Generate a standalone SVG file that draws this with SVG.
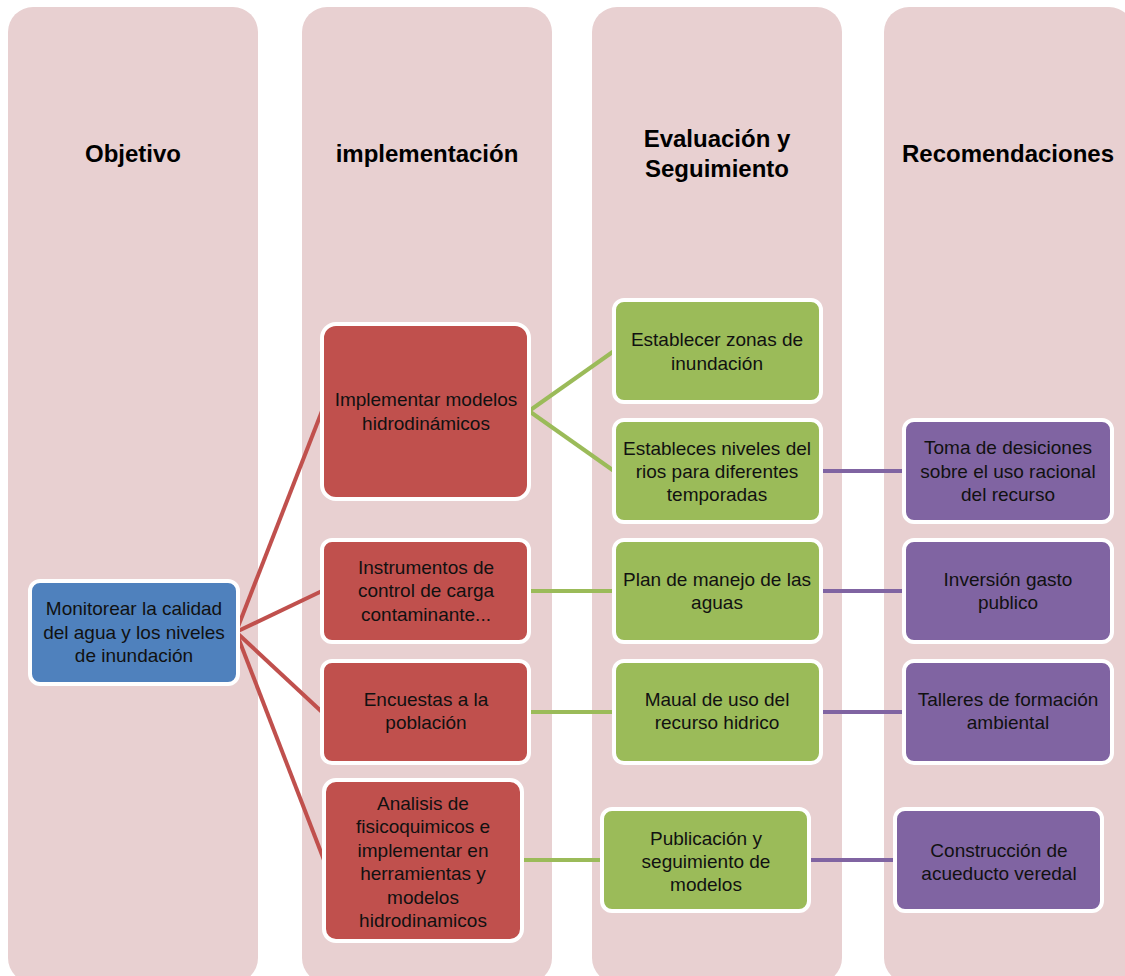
<svg xmlns="http://www.w3.org/2000/svg" width="1125" height="976" viewBox="0 0 1125 976">
<style>
.col{fill:#E8D0D1}
.hd{font-family:"Liberation Sans",Arial,sans-serif;font-weight:bold;font-size:24px;fill:#000;text-anchor:middle}
.tx{font-family:"Liberation Sans",Arial,sans-serif;font-size:19px;fill:#111;text-anchor:middle}
.nb{stroke:#fff;stroke-width:4}
.blue{fill:#4F81BD}
.red{fill:#C0504D}
.green{fill:#9BBB59}
.purple{fill:#8064A2}
.cr{stroke:#C0504D;stroke-width:4;fill:none}
.cg{stroke:#9BBB59;stroke-width:4;fill:none}
.cp{stroke:#8064A2;stroke-width:4;fill:none}
</style>
<rect width="1125" height="976" fill="#fff"/>
<g id="columns">
<g id="col-objetivo"><rect class="col" x="8" y="7" width="250" height="976" rx="25"/><text class="hd" x="133" y="161.5">Objetivo</text></g>
<g id="col-implementacion"><rect class="col" x="302" y="7" width="250" height="976" rx="25"/><text class="hd" x="427" y="161.5">implementación</text></g>
<g id="col-evaluacion"><rect class="col" x="592" y="7" width="250" height="976" rx="25"/><text class="hd" x="717" y="146.5">Evaluación y</text><text class="hd" x="717" y="176.5">Seguimiento</text></g>
<g id="col-recomendaciones"><rect class="col" x="884" y="7" width="250" height="976" rx="25"/><text class="hd" x="1008" y="161.5">Recomendaciones</text></g>
</g>
<g id="connectors">
<line class="cr" x1="236" y1="632" x2="322" y2="411"/>
<line class="cr" x1="236" y1="632" x2="322" y2="591"/>
<line class="cr" x1="236" y1="632" x2="322" y2="712"/>
<line class="cr" x1="236" y1="632" x2="324" y2="860"/>
<line class="cg" x1="529" y1="411" x2="614" y2="351"/>
<line class="cg" x1="529" y1="411" x2="614" y2="471"/>
<line class="cg" x1="529" y1="591" x2="614" y2="591"/>
<line class="cg" x1="529" y1="712" x2="614" y2="712"/>
<line class="cg" x1="522" y1="860" x2="602" y2="860"/>
<line class="cp" x1="821" y1="471" x2="904" y2="471"/>
<line class="cp" x1="821" y1="591" x2="904" y2="591"/>
<line class="cp" x1="821" y1="712" x2="904" y2="712"/>
<line class="cp" x1="809" y1="860" x2="895" y2="860"/>
</g>
<g id="n-monitorear"><rect class="nb blue" x="30" y="581" width="208" height="103" rx="10"/><text class="tx" x="134" y="615">Monitorear la calidad</text><text class="tx" x="134" y="638.5">del agua y los niveles</text><text class="tx" x="134" y="662">de inundación</text></g>
<g id="n-implementar"><rect class="nb red" x="322" y="324" width="207" height="175" rx="14"/><text class="tx" x="426" y="405.5">Implementar modelos</text><text class="tx" x="426" y="429.5">hidrodinámicos</text></g>
<g id="n-instrumentos"><rect class="nb red" x="322" y="540" width="207" height="102" rx="10"/><text class="tx" x="426" y="573.5">Instrumentos de</text><text class="tx" x="426" y="597">control de carga</text><text class="tx" x="426" y="620.5">contaminante...</text></g>
<g id="n-encuestas"><rect class="nb red" x="322" y="661" width="207" height="102" rx="10"/><text class="tx" x="426" y="705.5">Encuestas a la</text><text class="tx" x="426" y="728.5">población</text></g>
<g id="n-analisis"><rect class="nb red" x="324" y="780" width="198" height="161" rx="12"/><text class="tx" x="423" y="809.5">Analisis de</text><text class="tx" x="423" y="833">fisicoquimicos e</text><text class="tx" x="423" y="856.5">implementar en</text><text class="tx" x="423" y="880">herramientas y</text><text class="tx" x="423" y="903.5">modelos</text><text class="tx" x="423" y="927">hidrodinamicos</text></g>
<g id="n-zonas"><rect class="nb green" x="614" y="300" width="207" height="102" rx="10"/><text class="tx" x="717" y="345.5">Establecer zonas de</text><text class="tx" x="717" y="369.5">inundación</text></g>
<g id="n-niveles"><rect class="nb green" x="614" y="420" width="207" height="102" rx="10"/><text class="tx" x="717" y="454.5">Estableces niveles del</text><text class="tx" x="717" y="478">rios para diferentes</text><text class="tx" x="717" y="501">temporadas</text></g>
<g id="n-plan"><rect class="nb green" x="614" y="540" width="207" height="102" rx="10"/><text class="tx" x="717" y="585.5">Plan de manejo de las</text><text class="tx" x="717" y="608.5">aguas</text></g>
<g id="n-maual"><rect class="nb green" x="614" y="661" width="207" height="102" rx="10"/><text class="tx" x="717" y="705.5">Maual de uso del</text><text class="tx" x="717" y="728.5">recurso hidrico</text></g>
<g id="n-publicacion"><rect class="nb green" x="602" y="809" width="207" height="102" rx="10"/><text class="tx" x="706" y="844.5">Publicación y</text><text class="tx" x="706" y="867.5">seguimiento de</text><text class="tx" x="706" y="890.5">modelos</text></g>
<g id="n-toma"><rect class="nb purple" x="904" y="420" width="208" height="102" rx="10"/><text class="tx" x="1008" y="454">Toma de desiciones</text><text class="tx" x="1008" y="477.5">sobre el uso racional</text><text class="tx" x="1008" y="501">del recurso</text></g>
<g id="n-inversion"><rect class="nb purple" x="904" y="540" width="208" height="102" rx="10"/><text class="tx" x="1008" y="585.5">Inversión gasto</text><text class="tx" x="1008" y="608.5">publico</text></g>
<g id="n-talleres"><rect class="nb purple" x="904" y="661" width="208" height="102" rx="10"/><text class="tx" x="1008" y="705.5">Talleres de formación</text><text class="tx" x="1008" y="728.5">ambiental</text></g>
<g id="n-construccion"><rect class="nb purple" x="895" y="809" width="207" height="102" rx="10"/><text class="tx" x="999" y="856.5">Construcción de</text><text class="tx" x="999" y="879.5">acueducto veredal</text></g>
</svg>
